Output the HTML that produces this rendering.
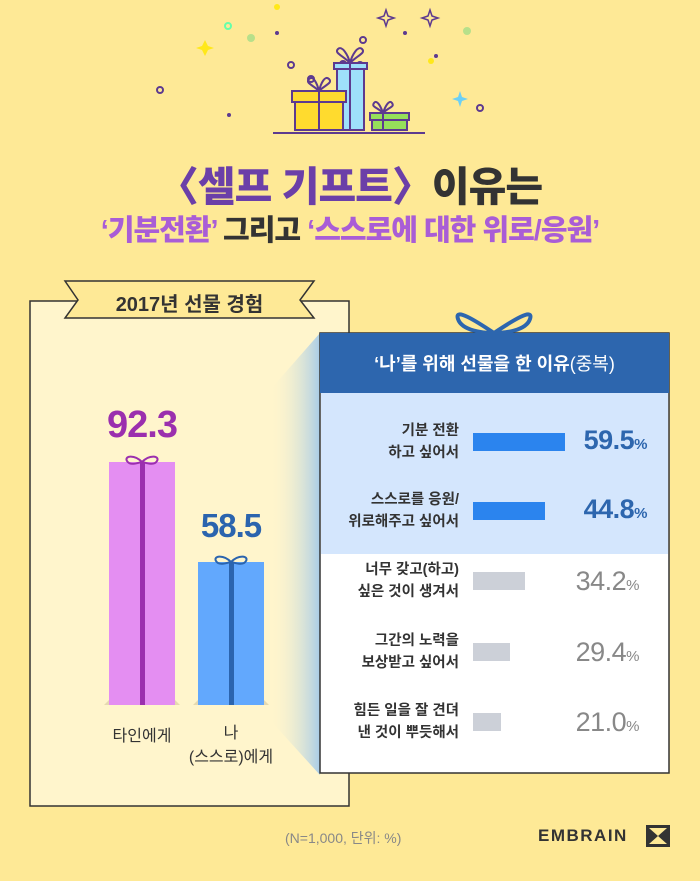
<!DOCTYPE html>
<html><head><meta charset="utf-8"><style>
body{margin:0;width:700px;height:881px;background:#FEE996;position:relative;overflow:hidden;font-family:"Liberation Sans","Noto Sans CJK KR",sans-serif;}
.a{position:absolute;white-space:nowrap;}
.t1{left:0;width:700px;text-align:center;top:153px;font-size:41px;font-weight:900;color:#333;letter-spacing:-1px;}
.t2{left:0;width:700px;text-align:center;top:207px;font-size:29px;font-weight:900;color:#333;letter-spacing:-1px;}
.p1{color:#6B3FA8}.p2{color:#A95DD6}
.lbl{font-size:14.5px;color:#333;text-align:right;line-height:22px;width:140px;left:319px;font-weight:bold}
.val{font-size:27px;font-weight:bold;text-align:right;width:150px;left:470px;letter-spacing:-0.5px}
.val small{font-size:15px;}
</style></head><body>
<svg class="a" style="left:0;top:0" width="700" height="881">
<g fill="none" stroke="#5D3A8F" stroke-width="2">
<circle cx="228" cy="26" r="3" stroke="#6FA"/><circle cx="291" cy="65" r="3"/><circle cx="160" cy="90" r="3"/><circle cx="360" cy="65" r="3"/><circle cx="343" cy="64" r="3"/><circle cx="311" cy="79" r="3"/><circle cx="360" cy="108" r="3"/>
<circle cx="363" cy="40" r="3"/><circle cx="480" cy="108" r="3"/>
</g>
<g fill="#FFE81A"><circle cx="277" cy="7" r="3"/><circle cx="431" cy="61" r="3"/><path d="M205 40l3 6 6 2-6 2-3 6-3-6-6-2 6-2z"/></g>
<g fill="#B7E08A"><circle cx="251" cy="38" r="4"/><circle cx="467" cy="31" r="4"/></g>
<g fill="#5D3A8F"><circle cx="277" cy="33" r="2"/><circle cx="405" cy="33" r="2"/><circle cx="436" cy="56" r="2"/><circle cx="229" cy="115" r="2"/></g>
<path d="M386 10l2 6 6 2-6 2-2 6-2-6-6-2 6-2z M430 10l2 6 6 2-6 2-2 6-2-6-6-2 6-2z" fill="none" stroke="#5D3A8F" stroke-width="1.5"/>
<path d="M460 91l2 6 6 2-6 2-2 6-2-6-6-2 6-2z" fill="#6CD0F5"/>
<g stroke="#5D3A8F" stroke-width="2">
<rect x="337" y="68" width="27" height="62" fill="#9EE0FB"/><rect x="334" y="63" width="33" height="6" fill="#9EE0FB"/><line x1="350" y1="63" x2="350" y2="130"/>
<path d="M350 63c-8-8-16-10-12-14s10 6 12 14c2-8 8-18 12-14s-4 6-12 14" fill="none"/>
<rect x="295" y="102" width="48" height="28" fill="#FFDB2E"/><rect x="292" y="91" width="54" height="11" fill="#FFDB2E"/><line x1="319" y1="91" x2="319" y2="130"/>
<path d="M319 91c-6-6-14-8-10-12s8 4 10 12c2-8 6-16 10-12s-4 6-10 12" fill="none"/>
<rect x="372" y="120" width="35" height="10" fill="#96E05A"/><rect x="370" y="113" width="39" height="7" fill="#96E05A"/><line x1="383" y1="113" x2="383" y2="130"/>
<path d="M383 113c-6-6-12-6-9-10s7 4 9 10c2-6 6-14 9-10s-3 4-9 10" fill="none"/>
<line x1="273" y1="133" x2="425" y2="133"/>
</g>
<rect x="30" y="301" width="319" height="505" fill="#FFF5CC" stroke="#333" stroke-width="1.5"/>
<defs><linearGradient id="g" x1="0" x2="1"><stop offset="0" stop-color="#FFF5CC" stop-opacity="0"/><stop offset="1" stop-color="#A8CCE8"/></linearGradient></defs>
<polygon points="270,390 320,333 320,775 270,720" fill="url(#g)"/>
<polygon points="65,281 314,281 300,300 314,318 65,318 78,300" fill="#FEE996" stroke="#333" stroke-width="1.5"/>
<polygon points="104,705 180,705 172,697 112,697" fill="#E5D9B0"/>
<polygon points="193,705 269,705 261,697 201,697" fill="#E5D9B0"/>
<rect x="109" y="462" width="66" height="243" fill="#E48EF2"/><rect x="140" y="462" width="5" height="243" fill="#9B2FAE"/>
<path d="M142 462c-8-8-18-6-15-1s10 2 15 1c5 1 12 4 15-1s-7-7-15 1" fill="none" stroke="#9B2FAE" stroke-width="2"/>
<rect x="198" y="562" width="66" height="143" fill="#62A8FD"/><rect x="229" y="562" width="5" height="143" fill="#2B64AE"/>
<path d="M231 562c-8-8-18-6-15-1s10 2 15 1c5 1 12 4 15-1s-7-7-15 1" fill="none" stroke="#2B64AE" stroke-width="2"/>
<rect x="320" y="333" width="349" height="440" fill="#fff" stroke="#333" stroke-width="1.5"/>
<rect x="321" y="393" width="347" height="161" fill="#D4E6FD"/>
<rect x="320" y="333" width="349" height="60" fill="#2D66AE"/>
<path d="M494 333c-18-12-40-26-36-14s26 14 36 14c10 0 32-2 36-14s-18 2-36 14" fill="none" stroke="#2D66AE" stroke-width="4"/>
<rect x="473" y="433" width="92" height="18" fill="#2B84EE"/>
<rect x="473" y="502" width="72" height="18" fill="#2B84EE"/>
<rect x="473" y="572" width="52" height="18" fill="#CCD0D8"/>
<rect x="473" y="643" width="37" height="18" fill="#CCD0D8"/>
<rect x="473" y="713" width="28" height="18" fill="#CCD0D8"/>
<g transform="translate(646,825)" fill="#333"><rect x="0" y="0" width="24" height="22"/><path d="M3 3h18L12 11z M3 19h18L12 11z" fill="#FEE996"/></g>
</svg>
<div class="a t1"><span class="p1">〈셀프 기프트〉</span>이유는</div>
<div class="a t2"><span class="p2">‘기분전환’</span> 그리고 <span class="p2">‘스스로에 대한 위로/응원’</span></div>
<div class="a" style="left:65px;width:249px;text-align:center;top:288px;font-size:20px;font-weight:bold;color:#333">2017년 선물 경험</div>
<div class="a" style="left:92px;width:100px;text-align:center;top:404px;font-size:38px;font-weight:bold;color:#9B2FAE;letter-spacing:-1px">92.3</div>
<div class="a" style="left:181px;width:100px;text-align:center;top:507px;font-size:33px;font-weight:bold;color:#2B64AE;letter-spacing:-1px">58.5</div>
<div class="a" style="left:92px;width:100px;text-align:center;top:722px;font-size:16px;color:#333">타인에게</div>
<div class="a" style="left:181px;width:100px;text-align:center;top:722px;font-size:16px;color:#333;line-height:24px">나<br>(스스로)에게</div>
<div class="a" style="left:320px;width:349px;text-align:center;top:350px;font-size:18px;font-weight:bold;color:#fff">‘나’를 위해 선물을 한 이유<span style="font-weight:normal">(중복)</span></div>
<div class="a lbl" style="top:420px">기분 전환<br>하고 싶어서</div>
<div class="a lbl" style="top:489px">스스로를 응원/<br>위로해주고 싶어서</div>
<div class="a lbl" style="top:559px">너무 갖고(하고)<br>싶은 것이 생겨서</div>
<div class="a lbl" style="top:630px">그간의 노력을<br>보상받고 싶어서</div>
<div class="a lbl" style="top:700px">힘든 일을 잘 견뎌<br>낸 것이 뿌듯해서</div>
<div class="a val" style="top:425px;left:497px;color:#2D66AE">59.5<small>%</small></div>
<div class="a val" style="top:494px;left:497px;color:#2D66AE">44.8<small>%</small></div>
<div class="a val" style="top:566px;left:489px;color:#888;font-weight:normal">34.2<small>%</small></div>
<div class="a val" style="top:637px;left:489px;color:#888;font-weight:normal">29.4<small>%</small></div>
<div class="a val" style="top:707px;left:489px;color:#888;font-weight:normal">21.0<small>%</small></div>
<div class="a" style="left:285px;top:828px;font-size:14px;color:#888">(N=1,000, 단위: %)</div>
<div class="a" style="left:538px;top:826px;font-size:17px;font-weight:bold;color:#333;letter-spacing:1.5px">EMBRAIN</div>
</body></html>
